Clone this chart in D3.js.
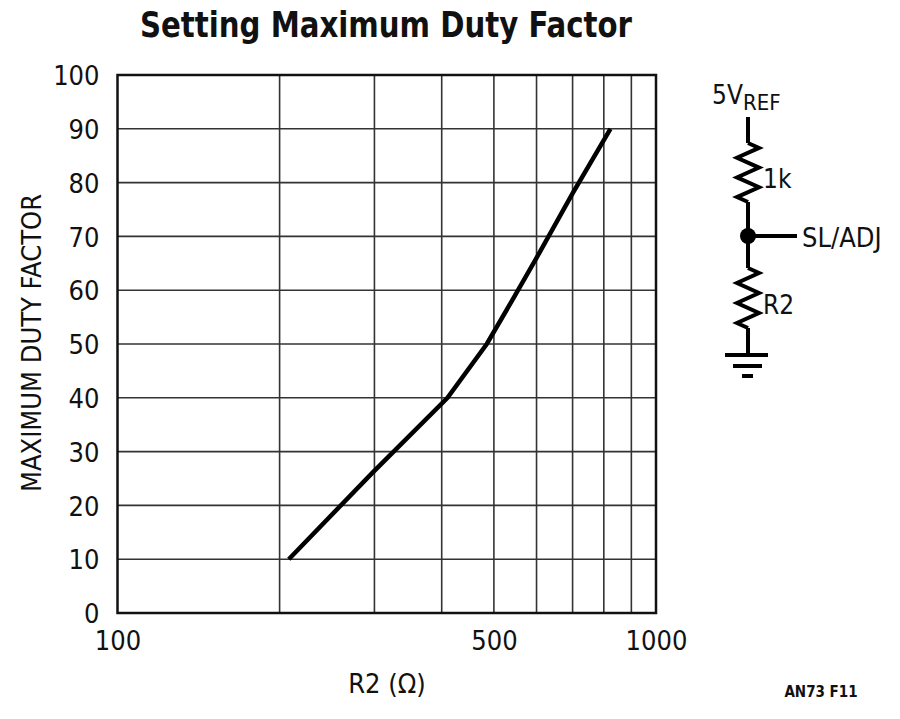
<!DOCTYPE html>
<html>
<head>
<meta charset="utf-8">
<script src="https://cdn.jsdelivr.net/npm/d3@7"></script>
<style>
  body { margin: 0; background: #fff; }
  svg text { font-family: 'Liberation Sans Narrow', 'DejaVu Sans Condensed', sans-serif; fill: #111; }
</style>
</head>
<body>
<svg id="canvas" width="900" height="719"></svg>
<script>
// curve: R2 (ohm) vs max duty factor (%)
const r2Values = [208, 297, 410, 485, 540, 600, 700, 823];
const dutyValues = [10, 26, 40, 50, 58, 66, 78, 90];

const yTicks = [0, 10, 20, 30, 40, 50, 60, 70, 80, 90, 100];
const xGrid = [200, 300, 400, 500, 600, 700, 800, 900];
const xTickLabels = [100, 500, 1000];

const plotLeft = 117.5, plotRight = 656, plotTop = 75, plotBottom = 613;

const canvas = d3.select('#canvas');

const xScale = d3.scaleLog().domain([100, 1000]).range([plotLeft, plotRight]);
const yScale = d3.scaleLinear().domain([0, 100]).range([plotBottom, plotTop]);

// title
canvas.append('text')
  .attr('x', 140).attr('y', 37)
  .attr('textLength', 492).attr('lengthAdjust', 'spacingAndGlyphs')
  .style('font-size', '36px').style('font-weight', 'bold')
  .text('Setting Maximum Duty Factor');

// grid
canvas.append('g')
  .selectAll('line')
  .data(xGrid)
  .enter().append('line')
  .attr('x1', d => xScale(d)).attr('x2', d => xScale(d))
  .attr('y1', plotTop).attr('y2', plotBottom)
  .attr('stroke', '#333').attr('stroke-width', 1.6);

canvas.append('g')
  .selectAll('line')
  .data(yTicks.slice(1, -1))
  .enter().append('line')
  .attr('x1', plotLeft).attr('x2', plotRight)
  .attr('y1', d => yScale(d)).attr('y2', d => yScale(d))
  .attr('stroke', '#333').attr('stroke-width', 1.6);

canvas.append('rect')
  .attr('x', plotLeft).attr('y', plotTop)
  .attr('width', plotRight - plotLeft).attr('height', plotBottom - plotTop)
  .attr('fill', 'none').attr('stroke', '#111').attr('stroke-width', 2.5);

// y axis labels
const yAxis = d3.axisLeft(yScale).tickValues(yTicks).tickSize(0).tickPadding(18);
const gy = canvas.append('g').attr('transform', `translate(${plotLeft}, 0)`).call(yAxis);
gy.select('.domain').remove();
gy.selectAll('text').style('font-size', '27px').attr('fill', '#111').attr('dy', '0.36em');

// x axis labels
const xAxis = d3.axisBottom(xScale).tickValues(xTickLabels).tickFormat(d3.format('d')).tickSize(0).tickPadding(18);
const gx = canvas.append('g').attr('transform', `translate(0, ${plotBottom})`).call(xAxis);
gx.select('.domain').remove();
gx.selectAll('text').style('font-size', '27px').attr('fill', '#111');

canvas.append('text')
  .attr('transform', 'translate(41, 343) rotate(-90)')
  .attr('text-anchor', 'middle')
  .style('font-size', '27px')
  .text('MAXIMUM DUTY FACTOR');

canvas.append('text')
  .attr('x', 387).attr('y', 693)
  .attr('text-anchor', 'middle')
  .style('font-size', '27px')
  .text('R2 (Ω)');

canvas.append('text')
  .attr('x', 821).attr('y', 697)
  .attr('text-anchor', 'middle')
  .style('font-size', '15px').style('font-weight', 'bold')
  .text('AN73 F11');

// the curve
const line = d3.line()
  .x((d, i) => xScale(r2Values[i]))
  .y(d => yScale(d));

canvas.append('path')
  .datum(dutyValues)
  .attr('d', line)
  .attr('fill', 'none')
  .attr('stroke', '#000')
  .attr('stroke-width', 4.5);

// schematic
const sch = canvas.append('g').attr('stroke', '#000').attr('stroke-width', 4).attr('fill', 'none');
const cx = 748;
const resistor = (y0, y1) => {
  const n = 6, dy = (y1 - y0) / n, w = 11;
  const pts = [[cx, y0]];
  for (let i = 0; i < n; i++) {
    pts.push([cx + (i % 2 === 0 ? w : -w), y0 + dy * (i + 0.5)]);
  }
  pts.push([cx, y1]);
  return d3.line()(pts);
};
sch.append('line').attr('x1', cx).attr('x2', cx).attr('y1', 117).attr('y2', 143);
sch.append('path').attr('d', resistor(143, 202));
sch.append('line').attr('x1', cx).attr('x2', cx).attr('y1', 202).attr('y2', 268);
sch.append('path').attr('d', resistor(268, 328));
sch.append('line').attr('x1', cx).attr('x2', cx).attr('y1', 328).attr('y2', 355);
sch.append('line').attr('x1', cx).attr('x2', 797).attr('y1', 236).attr('y2', 236);
sch.append('line').attr('x1', 725).attr('x2', 768).attr('y1', 355).attr('y2', 355);
sch.append('line').attr('x1', 733).attr('x2', 762).attr('y1', 366).attr('y2', 366);
sch.append('line').attr('x1', 742).attr('x2', 753).attr('y1', 376).attr('y2', 376);
canvas.append('circle').attr('cx', cx).attr('cy', 236).attr('r', 8).attr('fill', '#000');

const ref = canvas.append('text').attr('x', 712).attr('y', 104).style('font-size', '26px');
ref.append('tspan').text('5V');
ref.append('tspan').attr('dy', 6).style('font-size', '22px').text('REF');

canvas.append('text').attr('x', 763).attr('y', 188).style('font-size', '26px').text('1k');
canvas.append('text').attr('x', 802).attr('y', 247).style('font-size', '27px').text('SL/ADJ');
canvas.append('text').attr('x', 763).attr('y', 314).style('font-size', '26px').text('R2');
</script>
</body>
</html>
